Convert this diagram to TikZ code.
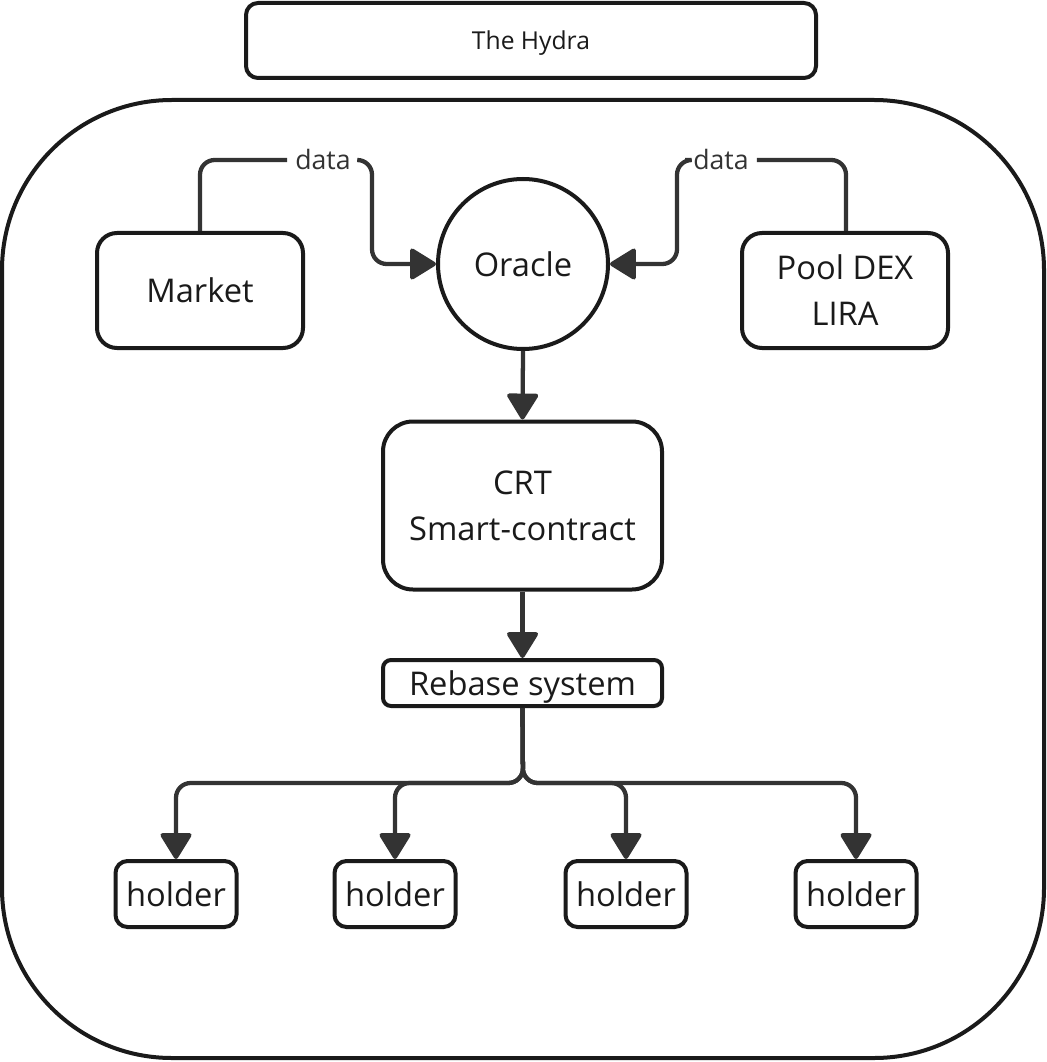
\documentclass[tikz,border=0pt]{standalone}
\usepackage{fontspec}
\setmainfont{Open Sans}
\usetikzlibrary{arrows.meta}
\definecolor{linec}{HTML}{333333}
\definecolor{boxc}{HTML}{1A1A1A}
\tikzset{
  box/.style={draw=boxc, line width=3pt, fill=white, inner sep=0pt, align=center, text=boxc,
    font=\fontsize{24.5}{34.5}\selectfont},
  bigbox/.style={box, minimum width=154.5pt, minimum height=86.25pt, rounded corners=15pt},
  holderbox/.style={box, minimum width=90.75pt, minimum height=49.5pt, rounded corners=9pt},
  datalabel/.style={inner sep=6pt, text=linec, font=\fontsize{20}{24}\selectfont},
  conn/.style={draw=linec, line width=3.2pt, rounded corners=11pt},
  arr/.style={conn, -{Triangle[round,length=21pt,width=25pt]}},
}
\begin{document}
\begin{tikzpicture}[x=0.75pt,y=-0.75pt]
\useasboundingbox (0,0) rectangle (1046,1062);
% outer frame
\draw[draw=boxc, line width=3pt, rounded corners=127.5pt] (2,100) rectangle (1044,1058);
% title
\node[box, minimum width=427.5pt, minimum height=56.25pt, rounded corners=9pt, text depth=0pt,
  font=\fontsize{18.5}{22}\selectfont] (title) at (531,40.5) {The Hydra};
% nodes
\node[bigbox] (market) at (200,290.5) {Market};
\node[bigbox] (pool) at (845,290.5) {Pool DEX\\LIRA};
\node[box, circle, minimum size=127.5pt] (oracle) at (523,264) {Oracle};
\node[box, minimum width=209.25pt, minimum height=126pt, rounded corners=22.5pt] (crt) at (522.5,505.5) {CRT\\Smart-contract};
\node[box, minimum width=209.25pt, minimum height=34.5pt, rounded corners=6pt, text depth=0pt] (rebase) at (522.5,683) {Rebase system};
\node[holderbox] (h1) at (176,894) {holder};
\node[holderbox] (h2) at (395,894) {holder};
\node[holderbox] (h3) at (626,894) {holder};
\node[holderbox] (h4) at (856,894) {holder};
% data labels
\node[datalabel] (d1) at (323,160) {data};
\node[datalabel] (d2) at (721,160) {data};
\coordinate (c1) at (372,264);
\coordinate (c2) at (677,264);
\coordinate (j) at (523,783);
% connectors
\draw[conn] (market.north) |- (d1.west);
\draw[arr] (d1.east) -| (c1) -- (oracle.west);
\draw[conn] (pool.north -| 846,0) |- (d2.east);
\draw[arr] (d2.west) -| (c2) -- (oracle.east);
\draw[arr] (oracle.south) -- (crt.north);
\draw[arr] (crt.south) -- (rebase.north);
\draw[arr] (rebase.south) -- (j) -| (h1.north);
\draw[arr] (rebase.south) -- (j) -| (h2.north);
\draw[arr] (rebase.south) -- (j) -| (h3.north);
\draw[arr] (rebase.south) -- (j) -| (h4.north);
\end{tikzpicture}
\end{document}
